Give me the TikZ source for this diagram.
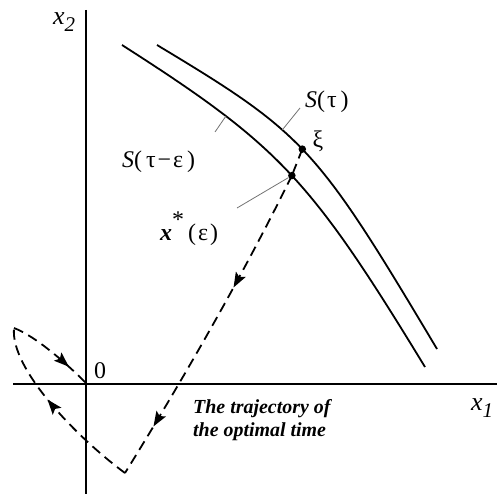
\documentclass[tikz,border=0pt]{standalone}
\usepackage{fontspec}
\setmainfont{Liberation Serif}
\usetikzlibrary{arrows.meta,decorations.markings}
\tikzset{
  axis/.style  = {line width=1.3bp},
  level/.style = {line width=1.8bp},
  traj/.style  = {line width=1.8bp, dash pattern=on 10bp off 6bp},
  lead/.style  = {line width=0.8bp, black!55},
  dot/.style   = {circle, fill, inner sep=0pt, minimum size=7.5bp},
  lbl/.style   = {font=\fontsize{24}{27}\selectfont, inner sep=0pt},
  note/.style  = {font=\fontsize{20}{23}\selectfont\bfseries\itshape,
                  align=left, inner sep=0pt},
  arr/.style   = {postaction={decorate}, decoration={markings,
                  mark=at position #1 with
                  {\arrow[solid]{Stealth[length=15bp,width=11bp,inset=3bp]}}}},
  arrs/.style 2 args = {postaction={decorate}, decoration={markings,
                  mark=at position #1 with
                  {\arrow[solid]{Stealth[length=15bp,width=11bp,inset=3bp]}},
                  mark=at position #2 with
                  {\arrow[solid]{Stealth[length=15bp,width=11bp,inset=3bp]}}}}
}

\begin{document}
\begin{tikzpicture}[x=1bp,y=-1bp]
  \useasboundingbox (0,0) rectangle (497,494);
  % ---- axes ----
  \coordinate (ytop) at (86,10);  \coordinate (ybot) at (86,494);
  \coordinate (xlft) at (13,384); \coordinate (xrgt) at (497,384);
  \coordinate (orig) at (86,383);
  \draw[axis] (ytop) -- (ybot);
  \draw[axis] (xlft) -- (xrgt);
  \node[lbl, anchor=base west] (x2) at (53,25)
    {\fontsize{26}{28}\selectfont\itshape x\raisebox{-7bp}{\fontsize{21}{22}\selectfont 2}};
  \node[lbl, anchor=base west] (x1) at (471,410)
    {\fontsize{26}{28}\selectfont\itshape x\raisebox{-7bp}{\fontsize{21}{22}\selectfont 1}};
  \node[lbl, anchor=base west] (zero) at (94,378) {0};
  % ---- level curves S(tau), S(tau-eps) ----
  \draw[level] (157,45) .. controls (305,134) and (316,146) .. (437,349)
    coordinate[pos=0.39] (la) coordinate[pos=0.478] (xi);
  \draw[level] (122,45) .. controls (279.5,145.8) and (309.8,178) .. (425,367)
    coordinate[pos=0.27] (lb) coordinate[pos=0.51] (xstar);
  % ---- optimal trajectory ----
  \coordinate (turn) at (125,473);
  \coordinate (loop) at (14,328);
  \draw[traj] (xi) -- (xstar);
  \draw[traj, arrs={0.37}{0.84}] (xstar) .. controls (246,269) and (187,373) .. (turn);
  \draw[traj, arr=0.57] (turn) .. controls (80,440) and (10,370) .. (loop);
  \draw[traj, arr=0.74] (loop) .. controls (35,336) and (65,362) .. (orig);
  \node[dot] (xidot) at (xi) {};
  \node[dot] (xsdot) at (xstar) {};
  % ---- labels ----
  \node[lbl, anchor=base west] (stau) at (305,108)
    {\itshape S\upshape(\hspace{2bp}τ\hspace{4bp})};
  \node[lbl] (xilab) at (318,141) {ξ};
  \node[lbl, anchor=base west] (steps) at (122,168)
    {\itshape S\upshape(\hspace{4bp}τ\hspace{2bp}−\hspace{2bp}ε\hspace{4bp})};
  \node[lbl, anchor=base west] (xslab) at (160,240)
    {{\bfseries\itshape x}\raisebox{13bp}{*}\hspace{4bp}(\hspace{2bp}ε\hspace{2bp})};
  \coordinate (la0) at (300,108);
  \coordinate (lb0) at (215,132);
  \coordinate (lc0) at (237,208);
  \draw[lead] (la0) -- (la);
  \draw[lead] (lb0) -- (lb);
  \draw[lead] (lc0) -- (xsdot);
  \node[note, anchor=north west] (trajlab) at (193,399)
    {The trajectory of\\the optimal time};
\end{tikzpicture}
\end{document}
